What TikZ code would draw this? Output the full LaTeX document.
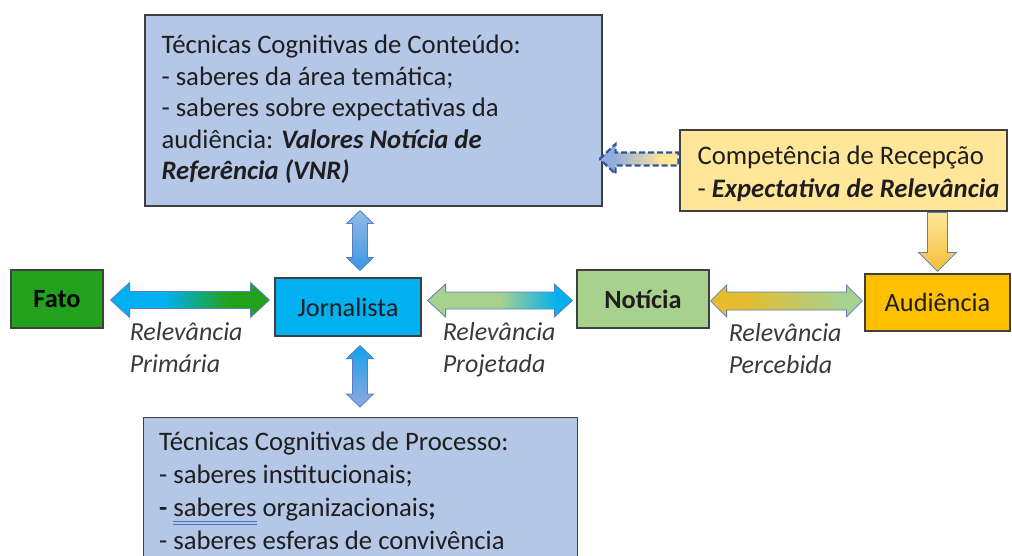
\documentclass[tikz,border=0pt]{standalone}
\usepackage{fontspec}
\setmainfont{Carlito}
\usetikzlibrary{calc}

\definecolor{boxblue}{HTML}{B4C7E7}
\definecolor{boxyellow}{HTML}{FFE699}
\definecolor{fatogreen}{HTML}{22A21C}
\definecolor{jornblue}{HTML}{00B0F0}
\definecolor{notgreen}{HTML}{A9D18E}
\definecolor{audgold}{HTML}{FFC000}
\definecolor{goldarrow}{HTML}{E8BC2C}
\definecolor{dashblue}{HTML}{8FAADC}
\definecolor{dashline}{HTML}{2F5597}
\definecolor{arrowline}{HTML}{5A7EC0}
\definecolor{vlight}{HTML}{93BCE8}
\definecolor{vblue}{HTML}{3A95E2}
\definecolor{vbright}{HTML}{15A3EC}
\definecolor{vlav}{HTML}{8EA7DC}
\definecolor{dgold}{HTML}{F2BE3A}
\definecolor{txt}{HTML}{1E1E1E}
\definecolor{labtxt}{HTML}{3A3A3A}
\definecolor{ulblue}{HTML}{4472C4}
\definecolor{edge}{HTML}{404040}

\pgfdeclarehorizontalshading{fjshade}{100bp}{color(0bp)=(jornblue); color(42bp)=(jornblue); color(62bp)=(fatogreen); color(100bp)=(fatogreen)}
\pgfdeclarehorizontalshading{jnshade}{100bp}{color(0bp)=(notgreen); color(50bp)=(notgreen); color(70bp)=(jornblue); color(100bp)=(jornblue)}
\pgfdeclarehorizontalshading{nashade}{100bp}{color(0bp)=(goldarrow); color(35bp)=(goldarrow); color(68bp)=(notgreen); color(100bp)=(notgreen)}
\pgfdeclarehorizontalshading{dashshade}{100bp}{color(0bp)=(dashblue); color(33bp)=(dashblue); color(65bp)=(boxyellow); color(100bp)=(boxyellow)}

\newcommand\spellul[1]{\setbox0=\hbox{#1}\rlap{\color{ulblue}\rule[-5pt]{\wd0}{1pt}}\rlap{\color{ulblue}\rule[-8pt]{\wd0}{1pt}}\box0\relax}

% horizontal double block arrow: #1 opts, #2 left tip, #3 right tip, #4 shaft half, #5 head half, #6 head length
\newcommand\hdarrow[6]{\path[#1] (#2) -- ($(#2)+(#6,-#5)$) -- ($(#2)+(#6,-#4)$) -- ($(#3)+(-#6,-#4)$) -- ($(#3)+(-#6,-#5)$) -- (#3) -- ($(#3)+(-#6,#5)$) -- ($(#3)+(-#6,#4)$) -- ($(#2)+(#6,#4)$) -- ($(#2)+(#6,#5)$) -- cycle;}
% vertical double block arrow: #2 top tip, #3 bottom tip
\newcommand\vdarrow[6]{\path[#1] (#2) -- ($(#2)+(#5,#6)$) -- ($(#2)+(#4,#6)$) -- ($(#3)+(#4,-#6)$) -- ($(#3)+(#5,-#6)$) -- (#3) -- ($(#3)+(-#5,-#6)$) -- ($(#3)+(-#4,-#6)$) -- ($(#2)+(-#4,#6)$) -- ($(#2)+(-#5,#6)$) -- cycle;}

\tikzset{
  box/.style={draw=edge, line width=1.2pt, inner sep=0pt},
  boxtext/.style={inner sep=0pt, align=left, text=txt, font=\fontsize{26.7}{31.5}\selectfont},
  lab/.style={inner sep=0pt, align=left, text=labtxt, font=\fontsize{26}{32}\selectfont\itshape},
  blockarrow/.style={draw=arrowline, line width=0.8pt},
}

\begin{document}
\begin{tikzpicture}[x=1pt,y=-1pt]
\path[use as bounding box] (0,0) rectangle (1012,556);
\clip (0,0) rectangle (1012,556);

% boxes
\node[box, fill=boxblue, minimum width=457, minimum height=191] (top) at (373.5,110.5) {};
\node[boxtext, anchor=west] (toptext) at ($(top.west)+(17,-1)$) {Técnicas Cognitivas de Conteúdo:\\- saberes da área temática;\\- saberes sobre expectativas da\\audiência: \textbf{\textit{Valores Notícia de}}\\\textbf{\textit{Referência (VNR)}}};

\node[box, fill=boxyellow, minimum width=327, minimum height=81] (comp) at (843.5,170.5) {};
\node[boxtext, anchor=west, font=\fontsize{26.7}{33}\selectfont] (comptext) at ($(comp.west)+(18,3.5)$) {Competência de Recepção\\- \textbf{\textit{Expectativa de Relevância}}};

\node[box, fill=fatogreen, minimum width=92, minimum height=58, font=\fontsize{26.3}{31}\selectfont\bfseries] (fato) at (57,299) {Fato};
\node[box, fill=jornblue, minimum width=146, minimum height=58, font=\fontsize{26.3}{31}\selectfont, text=txt] (jorn) at (348,307) {Jornalista};
\node[box, fill=notgreen, minimum width=132, minimum height=58, font=\fontsize{26.3}{31}\selectfont\bfseries, text=txt] (noticia) at (643,299) {Notícia};
\node[box, fill=audgold, minimum width=145, minimum height=57, font=\fontsize{26.3}{31}\selectfont, text=txt] (aud) at (937.5,302.5) {Audiência};

\node[box, fill=boxblue, minimum width=434, minimum height=183, anchor=north west] (proc) at (143,417) {};
\node[boxtext, anchor=north west, font=\fontsize{26.7}{33}\selectfont] (proctext) at ($(proc.north west)+(16,15)$) {Técnicas Cognitivas de Processo:\\- saberes institucionais;\\\textbf{-} \spellul{saberes} organizacionais\textbf{;}\\- saberes esferas de convivência};

% arrow end points
\coordinate (fj1) at ($(fato.east)+(7,1)$);
\coordinate (fj2) at ($(jorn.west |- fato.east)+(-5,1)$);
\coordinate (jn1) at ($(jorn.east |- noticia.west)+(6,1.5)$);
\coordinate (jn2) at ($(noticia.west)+(-4,1.5)$);
\coordinate (na1) at ($(noticia.east)+(1,2)$);
\coordinate (na2) at ($(aud.west |- noticia.east)+(-2,2)$);
\coordinate (tv1) at ($(jorn.north |- top.south)+(12,4)$);
\coordinate (tv2) at ($(jorn.north)+(12,-7)$);
\coordinate (bv1) at ($(jorn.south)+(12,9)$);
\coordinate (bv2) at ($(jorn.south |- proc.north)+(12,-10)$);
\coordinate (da1) at ($(aud.north |- comp.south)+(0,1)$);
\coordinate (da2) at ($(aud.north)+(0,-2)$);
\coordinate (ds1) at ($(top.east |- comp.west)+(-3,-11.5)$);
\coordinate (ds2) at ($(comp.west)+(-1,-11.5)$);

% connectors
\hdarrow{blockarrow, shading=fjshade}{fj1}{fj2}{8.5}{17.5}{19}
\hdarrow{blockarrow, shading=jnshade}{jn1}{jn2}{8.5}{16.5}{18}
\hdarrow{blockarrow, shading=nashade}{na1}{na2}{9}{16}{16}
\vdarrow{blockarrow, top color=vlight, bottom color=vblue}{tv1}{tv2}{7.5}{13.5}{13}
\vdarrow{blockarrow, top color=vbright, bottom color=vlav}{bv1}{bv2}{7.5}{13.5}{13}
\path[blockarrow, top color=boxyellow, bottom color=dgold] ($(da1)+(-10,0)$) -- ($(da1)+(10,0)$) -- ($(da2)+(10,-19)$) -- ($(da2)+(19,-19)$) -- (da2) -- ($(da2)+(-19,-19)$) -- ($(da2)+(-10,-19)$) -- cycle;
\path[draw=dashline, line width=2.2pt, dash pattern=on 6pt off 3pt, shading=dashshade] (ds1) -- ($(ds1)+(16,-15)$) -- ($(ds1)+(16,-6.5)$) -- ($(ds2)+(0,-6.5)$) -- ($(ds2)+(0,6.5)$) -- ($(ds1)+(16,6.5)$) -- ($(ds1)+(16,15)$) -- cycle;

% labels
\node[lab, anchor=north west] (lprim) at ($(fato.south east)+(26,-6)$) {Relevância\\Primária};
\node[lab, anchor=north west] (lproj) at ($(jorn.east)+(21,15)$) {Relevância\\Projetada};
\node[lab, anchor=north west] (lperc) at ($(noticia.south east)+(19,-5)$) {Relevância\\Percebida};
\end{tikzpicture}
\end{document}
